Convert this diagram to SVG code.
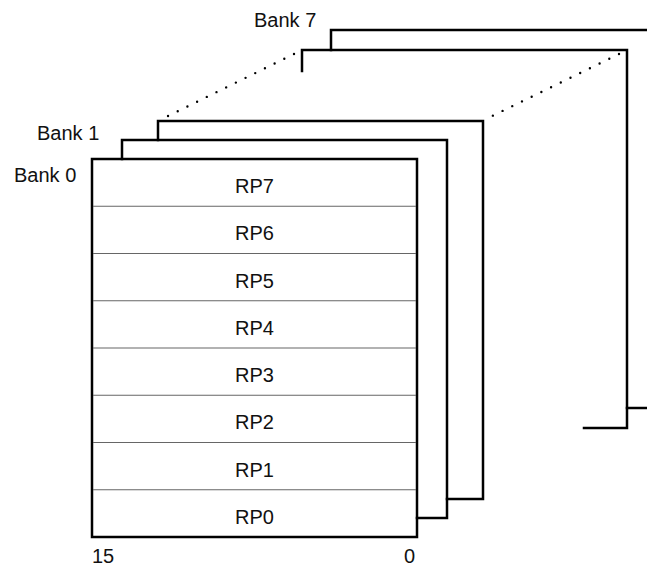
<svg xmlns="http://www.w3.org/2000/svg" width="647" height="567" viewBox="0 0 647 567">
<style>
.frame{fill:none;stroke:#000;stroke-width:2.5;stroke-linejoin:miter;stroke-linecap:square}
.row{stroke:#666;stroke-width:1.2}
.dot{fill:none;stroke:#000;stroke-width:2.4;stroke-linecap:round;stroke-dasharray:0 10.8}
text{font-family:"Liberation Sans",Arial,sans-serif;font-size:20px;fill:#111}
.c{text-anchor:middle}
</style>
<rect width="647" height="567" fill="#fff"/>
<g id="bank7">
<polyline class="frame" points="331,50 331,30 650,30"/>
<polyline class="frame" points="627,408 650,408"/>
<text x="254" y="27">Bank 7</text>
</g>
<g id="bank6">
<polyline class="frame" points="302,71 302,50 627,50 627,428 584,428"/>
</g>
<g id="connectors">
<line class="dot" x1="294" y1="54" x2="166" y2="117"/>
<line class="dot" x1="619" y1="54" x2="486" y2="119"/>
</g>
<g id="bank2">
<polyline class="frame" points="158,140 158,121 483,121 483,499 447,499"/>
</g>
<g id="bank1">
<polyline class="frame" points="122,159 122,140 447,140 447,518 417,518"/>
<text x="37" y="140">Bank 1</text>
</g>
<g id="bank0">
<rect class="frame" x="92" y="159" width="325" height="378"/>
<g class="row-lines">
<line class="row" x1="93" y1="206.25" x2="416" y2="206.25"/>
<line class="row" x1="93" y1="253.5" x2="416" y2="253.5"/>
<line class="row" x1="93" y1="300.75" x2="416" y2="300.75"/>
<line class="row" x1="93" y1="348" x2="416" y2="348"/>
<line class="row" x1="93" y1="395.25" x2="416" y2="395.25"/>
<line class="row" x1="93" y1="442.5" x2="416" y2="442.5"/>
<line class="row" x1="93" y1="489.75" x2="416" y2="489.75"/>
</g>
<text x="14" y="182">Bank 0</text>
<text class="c" x="254.5" y="193">RP7</text>
<text class="c" x="254.5" y="240.3">RP6</text>
<text class="c" x="254.5" y="287.5">RP5</text>
<text class="c" x="254.5" y="334.8">RP4</text>
<text class="c" x="254.5" y="382">RP3</text>
<text class="c" x="254.5" y="429.3">RP2</text>
<text class="c" x="254.5" y="476.5">RP1</text>
<text class="c" x="254.5" y="523.8">RP0</text>
<text x="92" y="563">15</text>
<text x="404" y="563">0</text>
</g>
</svg>
